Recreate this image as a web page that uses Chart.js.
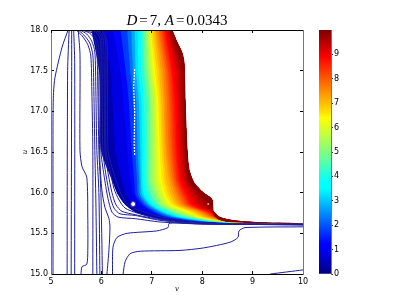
<!DOCTYPE html>
<html>
<head>
<meta charset="utf-8">
<style>
html,body{margin:0;padding:0;background:#fff;width:407px;height:305px;overflow:hidden}
canvas{position:absolute;left:0;top:0}
#title{position:absolute;left:0;width:354px;top:12px;text-align:center;font:15px "Liberation Serif",serif;color:#000;line-height:16px;white-space:pre}
#title span{margin:0 2px}
</style>
<script src="https://cdn.jsdelivr.net/npm/chart.js@4/dist/chart.umd.min.js"></script>
</head>
<body>
<canvas id="main" width="407" height="305"></canvas>
<canvas id="bar" width="407" height="305"></canvas>
<div id="title"><i>D</i><span>=</span>7, <i>A</i><span>=</span>0.0343</div>
<script>
const xTicks = [5, 6, 7, 8, 9, 10];
const yTicks = [15, 15.5, 16, 16.5, 17, 17.5, 18];
const barTicks = [0, 1, 2, 3, 4, 5, 6, 7, 8, 9];
const xAxisLabel = 'v';
const yAxisLabel = 'u';
const rowU = [18, 17.51, 17.14, 16.52, 16.15, 15.97, 15.85, 15.76, 15.70, 15.66, 15.64, 15.63, 15.615];
const level0_2 = [5.80,5.95,5.97,5.99,6.21,6.33,6.47,6.67,6.96,7.26,7.56,7.96,10];
const level0_6 = [6.00,6.18,6.22,6.28,6.41,6.49,6.62,6.82,7.06,7.38,7.76,8.17,10];
const level1_1 = [6.23,6.37,6.43,6.51,6.57,6.63,6.77,6.96,7.20,7.56,7.96,8.35,10];
const level1_5 = [6.38,6.48,6.54,6.60,6.65,6.68,6.82,7.04,7.28,7.66,8.04,8.43,10];
const level2_0 = [6.51,6.57,6.63,6.67,6.71,6.73,6.87,7.10,7.36,7.76,8.12,8.51,10];
const level2_5 = [6.59,6.63,6.69,6.72,6.75,6.77,6.92,7.16,7.43,7.83,8.16,8.56,10];
const level3_0 = [6.66,6.68,6.74,6.77,6.78,6.81,6.96,7.21,7.50,7.90,8.21,8.60,10];
const level3_5 = [6.73,6.73,6.79,6.81,6.81,6.85,7.00,7.26,7.56,7.96,8.25,8.65,10];
const level4_0 = [6.78,6.79,6.84,6.86,6.86,6.92,7.05,7.33,7.63,8.01,8.30,8.70,10];
const level4_5 = [6.83,6.85,6.90,6.91,6.91,6.99,7.11,7.40,7.70,8.07,8.35,8.75,10];
const level5_0 = [6.87,6.90,6.96,6.96,6.96,7.06,7.16,7.46,7.76,8.12,8.39,8.79,10];
const level5_25 = [6.89,6.92,6.98,7.00,7.00,7.09,7.20,7.51,7.80,8.15,8.42,8.82,10];
const level5_5 = [6.91,6.95,7.01,7.03,7.04,7.13,7.24,7.56,7.83,8.17,8.44,8.84,10];
const level5_75 = [6.93,6.98,7.04,7.07,7.08,7.17,7.28,7.61,7.87,8.20,8.47,8.87,10];
const level6_0 = [6.95,7.01,7.07,7.10,7.12,7.21,7.32,7.66,7.90,8.22,8.50,8.90,10];
const level6_25 = [6.97,7.03,7.10,7.13,7.16,7.25,7.36,7.71,7.93,8.25,8.53,8.93,10];
const level6_5 = [6.98,7.06,7.12,7.16,7.20,7.28,7.40,7.76,7.96,8.27,8.55,8.95,10];
const level6_75 = [7.01,7.10,7.16,7.20,7.25,7.33,7.45,7.81,8.01,8.31,8.58,8.99,10];
const level7_0 = [7.04,7.14,7.19,7.23,7.29,7.38,7.50,7.86,8.05,8.35,8.62,9.03,10];
const level7_25 = [7.07,7.18,7.23,7.27,7.34,7.43,7.55,7.91,8.10,8.39,8.66,9.07,10];
const level7_5 = [7.10,7.22,7.26,7.30,7.38,7.48,7.60,7.96,8.15,8.43,8.69,9.11,10];
const level7_75 = [7.13,7.26,7.30,7.34,7.42,7.52,7.64,8.00,8.18,8.47,8.72,9.15,10];
const level8_0 = [7.16,7.29,7.34,7.38,7.45,7.56,7.68,8.03,8.21,8.50,8.75,9.19,10];
const level8_2 = [7.19,7.32,7.37,7.41,7.48,7.60,7.71,8.06,8.24,8.52,8.78,9.22,10];
const level8_4 = [7.21,7.35,7.40,7.44,7.50,7.63,7.74,8.09,8.26,8.54,8.80,9.25,10];
const level8_6 = [7.24,7.38,7.43,7.47,7.53,7.66,7.77,8.12,8.29,8.57,8.82,9.28,10];
const level8_8 = [7.26,7.40,7.46,7.50,7.56,7.70,7.80,8.15,8.31,8.59,8.85,9.31,10];
const level9_0 = [7.29,7.45,7.50,7.54,7.60,7.75,7.86,8.17,8.32,8.60,8.90,9.35,10];
const level9_2 = [7.31,7.49,7.54,7.57,7.64,7.80,7.92,8.19,8.33,8.61,8.95,9.40,10];
const level9_4 = [7.33,7.53,7.57,7.61,7.68,7.85,7.98,8.21,8.34,8.62,8.98,9.44,10];
const level9_6 = [7.35,7.57,7.60,7.64,7.71,7.91,8.05,8.24,8.35,8.62,9.02,9.47,10];
const level9_8 = [7.38,7.61,7.63,7.66,7.72,7.96,8.12,8.25,8.36,8.63,9.06,9.50,10];
const levelValues = [0.2,0.6,1.1,1.5,2,2.5,3,3.5,4,4.5,5,5.25,5.5,5.75,6,6.25,6.5,6.75,7,7.25,7.5,7.75,8,8.2,8.4,8.6,8.8,9,9.2,9.4,9.6,9.8];
const levelColumns = [level0_2,level0_6,level1_1,level1_5,level2_0,level2_5,level3_0,level3_5,level4_0,level4_5,level5_0,level5_25,level5_5,level5_75,level6_0,level6_25,level6_5,level6_75,level7_0,level7_25,level7_5,level7_75,level8_0,level8_2,level8_4,level8_6,level8_8,level9_0,level9_2,level9_4,level9_6,level9_8];
const edgeV = [7.40,7.50,7.60,7.64,7.66,7.70,7.74,7.84,8.02,8.19,8.21,8.23,8.31,8.47,8.71,9.10,9.70,10];
const edgeU = [18,17.85,17.72,17.59,17.14,16.52,16.28,16.12,16.0,15.92,15.81,15.73,15.68,15.65,15.64,15.63,15.625,15.615];
const lineA = [[5.34,18],[5.22,17.79],[5.08,17.42],[5.05,17.23],[5.04,16.9],[5.04,15]];
const lineB = [[5.36,18],[5.33,17.5],[5.32,15]];
const lineC = [[5.41,18],[5.41,17.5],[5.40,15]];
const lineD = [[5.45,18],[5.47,17.6],[5.47,15]];
const lineE = [[5.54,18],[5.575,17.7],[5.575,16.52],[5.615,16.32],[5.71,16.19],[5.73,15.70],[5.73,15.29],[5.71,15.12],[5.615,15.09],[5.595,15]];
const lineF1 = [[5.50,18],[5.615,17.93],[5.73,17.82],[5.79,17.68],[5.81,17.26],[5.83,16.52],[5.83,15]];
const lineF2 = [[5.54,18],[5.65,17.94],[5.77,17.84],[5.83,17.69],[5.85,17.26],[5.87,16.52],[5.89,15.91],[5.91,15]];
const lineF3 = [[5.575,18],[5.71,17.95],[5.81,17.86],[5.87,17.73],[5.89,17.26],[5.91,16.52],[5.95,16.0],[5.97,15]];
const lineF4 = [[5.615,18],[5.77,17.96],[5.87,17.88],[5.91,17.75],[5.93,17.26],[5.95,16.52],[5.99,16.0],[6.02,15]];
const lineG = [[5.65,18],[5.83,17.96],[5.91,17.88],[5.95,17.75],[5.95,17.26],[5.97,16.4],[6.01,16.03],[6.07,15.82],[6.15,15.68],[6.17,15.58],[6.15,15.3],[6.11,15]];
const lineH = [[6.22,15],[6.23,15.33],[6.31,15.45],[6.51,15.50],[7.10,15.53],[7.32,15.57],[7.34,15.62],[7.5,15.63],[8.5,15.615],[10,15.60]];
const lineI = [[6.43,15],[6.47,15.15],[6.57,15.25],[6.77,15.28],[7.56,15.29],[8.02,15.32],[8.55,15.39],[8.71,15.45],[8.73,15.53],[8.85,15.57],[10,15.58]];
const lineJ = [[9.35,15],[10,15.05]];
const lineK1 = [[5.69,18],[5.89,17.975],[5.97,17.90],[5.99,17.75],[5.99,16.52],[6.05,16.22],[6.13,15.93],[6.21,15.76],[6.33,15.70],[6.67,15.68],[7.16,15.64],[7.96,15.615],[10,15.61]];
const lineK2 = [[5.73,18],[5.93,17.98],[6.0,17.9],[6.01,17.75],[6.03,16.52],[6.09,16.22],[6.17,15.96],[6.25,15.81],[6.37,15.74],[6.67,15.72],[7.16,15.66],[7.96,15.615],[10,15.61]];
const lineK3 = [[5.77,18],[5.97,17.98],[6.03,17.9],[6.05,17.75],[6.07,16.52],[6.13,16.25],[6.21,16.0],[6.29,15.85],[6.41,15.77],[6.67,15.73],[7.16,15.67],[7.96,15.62],[10,15.61]];
const lineK4 = [[5.81,18],[6.0,17.98],[6.07,17.9],[6.09,17.75],[6.09,16.52],[6.17,16.28],[6.25,16.05],[6.35,15.91],[6.47,15.81],[6.71,15.75],[7.16,15.68],[8.02,15.62],[10,15.61]];
const lineK5 = [[5.85,18],[6.03,17.98],[6.1,17.9],[6.12,17.75],[6.13,16.52],[6.21,16.31],[6.31,16.11],[6.41,15.96],[6.53,15.85],[6.77,15.78],[7.2,15.70],[8.02,15.63],[10,15.61]];
const navyLines = [lineA,lineB,lineC,lineD,lineE,lineF1,lineF2,lineF3,lineF4,lineG,lineH,lineI,lineJ,lineK1,lineK2,lineK3,lineK4,lineK5];
const speckle = [[6.66,17.52],[6.64,17.3],[6.66,17.0],[6.65,16.6],[6.66,16.45]];
const holeA = [[6.63,15.86]];
const holeB = [[8.12,15.86]];
const jetStops = [[0,0,0,127],[0.11,0,0,255],[0.125,0,0,255],[0.35,0,255,255],[0.375,0,255,255],[0.5,127,255,127],[0.64,255,255,0],[0.66,255,230,0],[0.89,255,0,0],[0.91,230,0,0],[1,127,0,0]];
function jet(t){
  t = Math.max(0, Math.min(1, t));
  for (let i = 1; i < jetStops.length; i++) {
    const a = jetStops[i-1], b = jetStops[i];
    if (t <= b[0]) {
      const f = (t - a[0]) / (b[0] - a[0]);
      return 'rgb(' + [1,2,3].map(k => Math.round(a[k] + (b[k]-a[k]) * f)).join(',') + ')';
    }
  }
}
const toPts = arr => arr.map(p => ({x:p[0], y:p[1]}));
const edgePts = edgeV.map((v,i) => ({x:v, y:edgeU[i]}));
const datasets = [];
navyLines.forEach(l => datasets.push({data:toPts(l), showLine:true, borderColor:'#1e1e9c', borderWidth:1, pointRadius:0, tension:0.25, fill:false}));
datasets.unshift({data:toPts(speckle), showLine:true, borderColor:'#fff', borderWidth:1.2, borderDash:[2,1], pointRadius:0, fill:false});
datasets.unshift({data:toPts(holeA), showLine:false, pointRadius:2.5, pointBackgroundColor:'#fff', pointBorderColor:'#2a2ad0', pointBorderWidth:1});
datasets.unshift({data:toPts(holeB), showLine:false, pointRadius:1, pointBackgroundColor:'#e8a090', pointBorderWidth:0});
datasets.push({data:edgePts, showLine:true, borderColor:'#7f0000', borderWidth:1, pointRadius:0, tension:0.25, fill:false});
for (let i = levelValues.length - 1; i >= 0; i--) {
  const next = i + 1 < levelValues.length ? levelValues[i+1] : 10;
  const contour = levelColumns[i].map((v,k) => ({x:v, y:rowU[k]}));
  datasets.push({
    data: contour.concat(edgePts.slice().reverse()),
    showLine:true, borderWidth:0, borderColor:'transparent', pointRadius:0, tension:0.25,
    backgroundColor: jet((levelValues[i]+next)/20), fill:'shape'
  });
}
const tickAxis = (extra) => Object.assign({
  type:'linear',
  grid:{drawOnChartArea:false, drawTicks:true, tickLength:-3, tickWidth:1, tickColor:'#000', z:1},
  border:{display:true, color:'#000', width:1, z:1}
}, extra);
new Chart(document.getElementById('main'), {
  type:'scatter',
  data:{datasets},
  options:{
    responsive:false, animation:false, clip:true,
    layout:{padding:0},
    plugins:{legend:{display:false}, tooltip:{enabled:false}, title:{display:false}},
    scales:{
      x: tickAxis({position:'bottom', min:5, max:10,
        afterBuildTicks:s=>{s.ticks=xTicks.map(v=>({value:v}))},
        ticks:{color:'#000', padding:6, maxRotation:0, autoSkip:false, font:{family:'DejaVu Sans', size:8}, callback:v=>String(v)},
        title:{display:true, text:xAxisLabel, color:'#000', font:{family:'DejaVu Serif', size:7, style:'italic'}, padding:{top:0,bottom:12}},
        afterFit:s=>{s.height=31}}),
      y: tickAxis({position:'left', min:15, max:18,
        border:{display:true,color:'#777',width:1,z:1},
        afterBuildTicks:s=>{s.ticks=yTicks.map(v=>({value:v}))},
        ticks:{color:'#000', padding:6, autoSkip:false, font:{family:'DejaVu Sans', size:8}, callback:v=>v.toFixed(1)},
        title:{display:true, text:yAxisLabel, color:'#000', font:{family:'DejaVu Serif', size:7, style:'italic'}, padding:{top:21,bottom:0}},
        afterFit:s=>{s.width=51}}),
      x2: tickAxis({axis:'x', position:'top', min:5, max:10,
        afterBuildTicks:s=>{s.ticks=xTicks.map(v=>({value:v}))},
        ticks:{display:false}, afterFit:s=>{s.height=30}}),
      y2: tickAxis({axis:'y', position:'right', min:15, max:18,
        border:{display:true,color:'#777',width:1,z:1},
        afterBuildTicks:s=>{s.ticks=yTicks.map(v=>({value:v}))},
        ticks:{display:false}, afterFit:s=>{s.width=104}})
    }
  }
});
const barRange = [[0,10]];
const barLabels = ['levels'];
new Chart(document.getElementById('bar'), {
  type:'bar',
  data:{labels:barLabels, datasets:[{
    data:barRange, barPercentage:1, categoryPercentage:1, borderWidth:0,
    backgroundColor:ctx=>{
      const a = ctx.chart.chartArea;
      if(!a) return '#00f';
      const g = ctx.chart.ctx.createLinearGradient(0,a.bottom,0,a.top);
      jetStops.forEach(s=>g.addColorStop(s[0],'rgb('+s[1]+','+s[2]+','+s[3]+')'));
      return g;
    }
  }]},
  options:{
    responsive:false, animation:false,
    layout:{padding:{left:319,top:30,bottom:31,right:0}},
    plugins:{legend:{display:false}, tooltip:{enabled:false}},
    scales:{
      x:{display:false},
      y:{position:'right', min:0, max:10,
        afterBuildTicks:s=>{s.ticks=barTicks.map(v=>({value:v}))},
        grid:{drawOnChartArea:false, drawTicks:true, tickLength:2, tickColor:'#333'},
        border:{display:true,color:'#777',width:1},
        ticks:{color:'#000', padding:1, font:{family:'DejaVu Sans',size:8}, callback:v=>String(v)},
        afterFit:s=>{s.width=76}
      }
    }
  }
});
</script>
</body>
</html>
